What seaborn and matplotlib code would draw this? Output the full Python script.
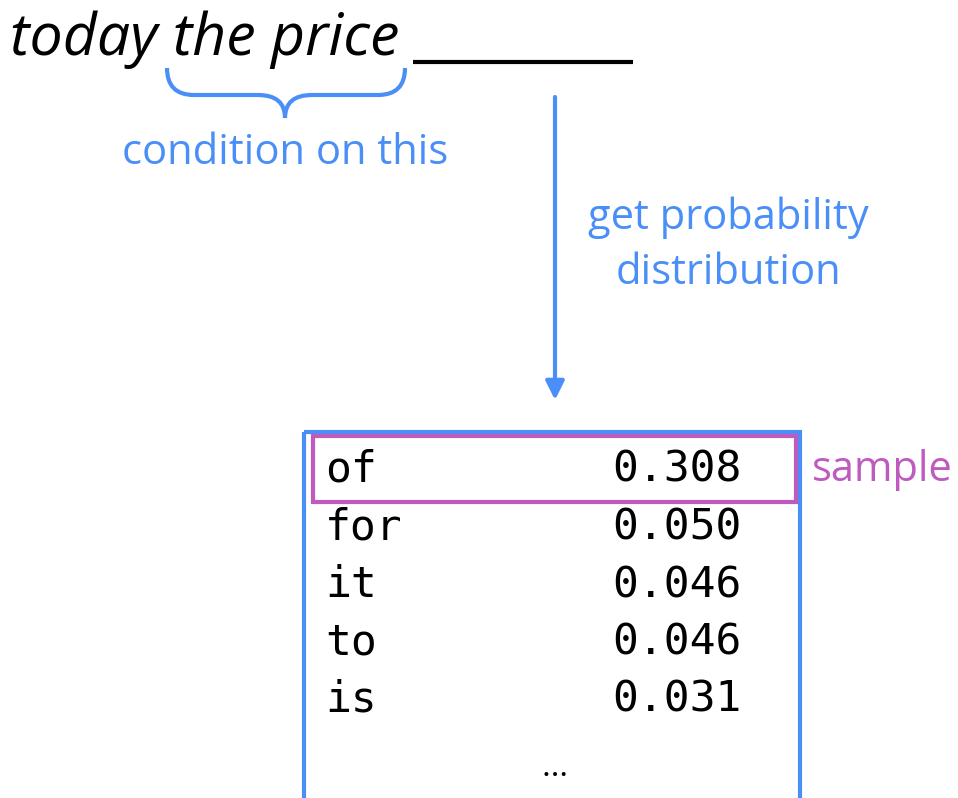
import matplotlib
matplotlib.use("Agg")
import matplotlib.pyplot as plt
import seaborn as sns
from matplotlib.path import Path
from matplotlib.patches import PathPatch, Rectangle

# prompt and next-token distribution
prompt_words = ["today", "the", "price"]
tokens = ["of", "for", "it", "to", "is"]
probs = [0.308, 0.050, 0.046, 0.046, 0.031]
sampled = "of"

BLUE = "#4a8ff7"
PURPLE = "#bf5bbf"

sns.set_theme(style="white")
plt.rcParams["font.family"] = ["Open Sans", "DejaVu Sans"]
plt.rcParams["text.color"] = "black"

fig = plt.figure(figsize=(9.58, 7.98), dpi=100)
ax = fig.add_axes([0, 0, 1, 1])
ax.set_xlim(0, 958)
ax.set_ylim(798, 0)
ax.axis("off")

# prompt with blank
ax.text(10, 55, " ".join(prompt_words), fontsize=42.5, style="italic",
        color="black", va="baseline", ha="left")
ax.plot([413, 633], [62, 62], color="black", lw=3, solid_capstyle="butt")

# curly brace under "the price"
verts = [(167, 68), (167, 95), (194, 95),
         (258, 95),
         (285, 95), (285, 118),
         (285, 95), (312, 95),
         (378, 95),
         (405, 95), (405, 68)]
codes = [Path.MOVETO, Path.CURVE3, Path.CURVE3,
         Path.LINETO,
         Path.CURVE3, Path.CURVE3,
         Path.CURVE3, Path.CURVE3,
         Path.LINETO,
         Path.CURVE3, Path.CURVE3]
ax.add_patch(PathPatch(Path(verts, codes), fill=False, edgecolor=BLUE,
                       lw=3, capstyle="butt"))
ax.text(285, 153, "condition on this", fontsize=30, color=BLUE,
        ha="center", va="center")

# arrow to distribution
ax.annotate("", xy=(555, 400), xytext=(555, 97),
            arrowprops=dict(arrowstyle="-|>", color=BLUE, lw=3,
                            mutation_scale=28, shrinkA=0, shrinkB=0))
ax.text(728, 245, "get probability\ndistribution", fontsize=30, color=BLUE,
        ha="center", va="center", linespacing=1.4)

# distribution table
ax.add_patch(Rectangle((304, 432), 496, 400, fill=False, edgecolor=BLUE,
                       lw=3, clip_on=False))
for i, (tok, p) in enumerate(zip(tokens, probs)):
    y = 470 + i * 57.5
    ax.text(325, y, tok, fontsize=31, family="DejaVu Sans Mono",
            color="black", ha="left", va="center")
    ax.text(742, y, f"{p:.3f}", fontsize=31, family="DejaVu Sans Mono",
            color="black", ha="right", va="center")
    if tok == sampled:
        ax.add_patch(Rectangle((313, y - 34), 483, 66, fill=False,
                               edgecolor=PURPLE, lw=3))
        ax.text(812, y, "sample", fontsize=30, color=PURPLE,
                ha="left", va="center")
ax.text(555, 768, "…", fontsize=24, color="black", ha="center", va="center")

fig.savefig("out.png", dpi=100)
